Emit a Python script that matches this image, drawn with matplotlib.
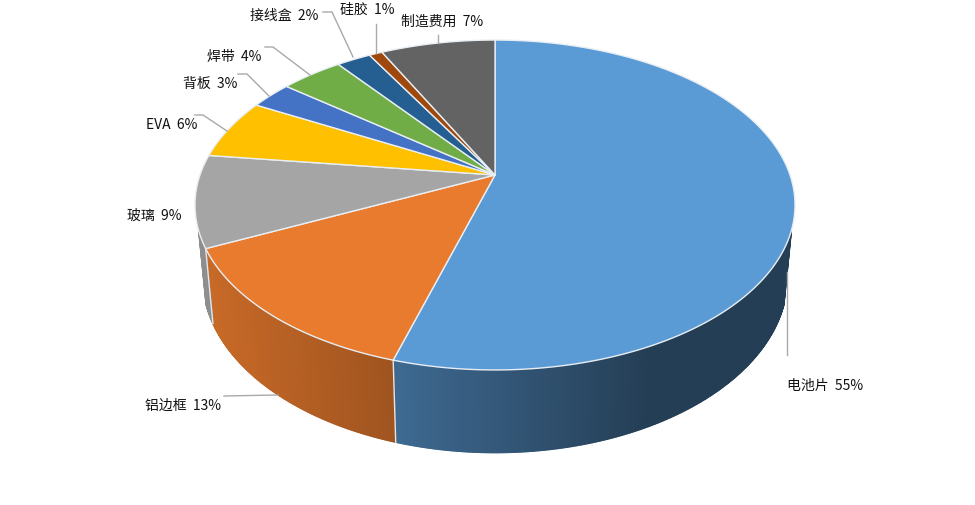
import numpy as np
import matplotlib
matplotlib.use("Agg")
import matplotlib.pyplot as plt
from matplotlib.collections import PolyCollection
from matplotlib.colors import to_rgb

plt.rcParams['font.family'] = ['Noto Sans CJK SC', 'DejaVu Sans']

categories = ['电池片', '铝边框', '玻璃', 'EVA', '背板', '焊带', '接线盒', '硅胶', '制造费用']
values = [54.6, 13.4, 9, 5.9, 2.7, 4.0, 2.2, 0.85, 7.35]
percent_labels = ['55%', '13%', '9%', '6%', '3%', '4%', '2%', '1%', '7%']
colors = ['#5B9BD5', '#E97B2E', '#A5A5A5', '#FFC000', '#4472C4',
          '#70AD47', '#255E91', '#9E480E', '#636363']
label_pos = [(787, 386), (145, 406), (127, 216), (146, 125), (183, 84),
             (207, 57), (250, 16), (340, 10), (401, 22)]
leaders = [[(787, 272), (787, 355)],
           [(224, 396), (278, 395)],
           [],
           [(227, 131), (203, 115), (195, 115)],
           [(269, 96), (247, 74), (238, 74)],
           [(310, 75), (273, 47), (265, 47)],
           [(353, 57), (332, 12), (323, 12)],
           [(376, 53), (376, 24)],
           [(438, 43), (438, 35)]]

CX, CY, A, B, K = 495.0, 175.0, 295.0, 159.5, 0.1818
WALL_TOP = 230


def top_rim(theta):
    u, v = np.sin(theta), np.cos(theta)
    d = 1 + K * v
    return CX + A * u / d, CY - B * v / d


def bottom_rim(x, y):
    return CX + 0.975 * (x - CX), y + 75 + (y - 250) * 0.064


def wall_factor(x):
    return np.interp(x, [205, 396, 650], [0.86, 0.68, 0.40])


fig = plt.figure(figsize=(9.75, 5.05), dpi=100)
ax = fig.add_axes([0, 0, 1, 1])
ax.set_xlim(0, 975)
ax.set_ylim(505, 0)
ax.axis('off')

edges = np.cumsum([0] + values) / sum(values) * 2 * np.pi

# side wall (front part only)
polys, cols = [], []
for i, col in enumerate(colors):
    th = np.linspace(edges[i], edges[i + 1], max(int(values[i] * 12), 3))
    x, y = top_rim(th)
    xb, yb = bottom_rim(x, y)
    base = np.array(to_rgb(col))
    for j in range(len(th) - 1):
        if min(y[j], y[j + 1]) < WALL_TOP:
            continue
        polys.append([(x[j], y[j]), (x[j + 1], y[j + 1]), (xb[j + 1], yb[j + 1]), (xb[j], yb[j])])
        cols.append(tuple(base * wall_factor((x[j] + x[j + 1]) / 2)))
ax.add_collection(PolyCollection(polys, facecolors=cols, edgecolors=cols, linewidths=1.0, zorder=1))

# seam lines on the visible wall
for th_edge in edges[1:3]:
    x, y = top_rim(th_edge)
    xb, yb = bottom_rim(x, y)
    ax.plot([x, xb], [y, yb], color='#dfe6ec', lw=1, zorder=2)

# top face
for i, col in enumerate(colors):
    th = np.linspace(edges[i], edges[i + 1], max(int(values[i] * 12), 6))
    x, y = top_rim(th)
    ax.fill(np.r_[CX, x], np.r_[CY, y], facecolor=col, edgecolor='#e8eef3', lw=1, zorder=3, joinstyle='round')

# leaders and labels
for line in leaders:
    if line:
        xs, ys = zip(*line)
        ax.plot(xs, ys, color='#a9a9a9', lw=1, zorder=4)
for name, pct, (tx, ty) in zip(categories, percent_labels, label_pos):
    ax.text(tx, ty, f'{name}  {pct}', fontsize=10, color='#111111', va='center', ha='left',
            fontweight='medium', zorder=5)

fig.savefig('out.png', dpi=100)
